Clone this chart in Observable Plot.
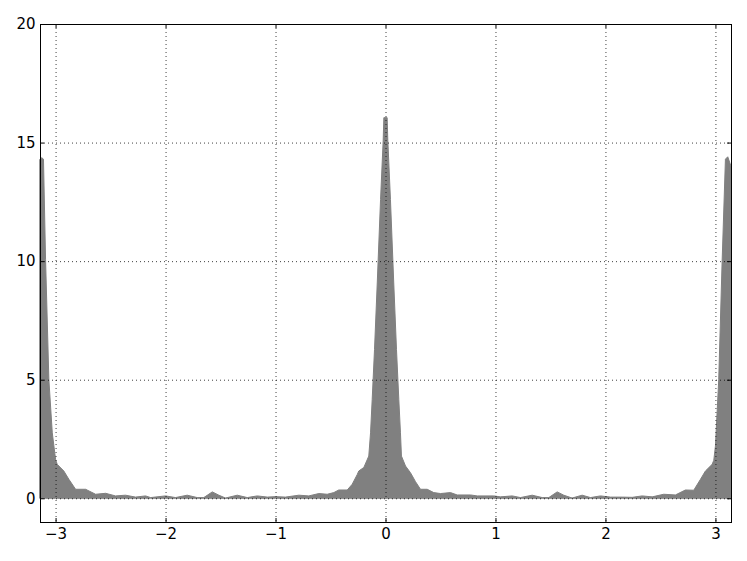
<!DOCTYPE html>
<html>
<head>
<meta charset="utf-8">
<script src="https://cdn.jsdelivr.net/npm/d3@7"></script>
<script src="https://cdn.jsdelivr.net/npm/@observablehq/plot@0.6"></script>
<style>
  html, body { margin: 0; padding: 0; background: #fff; }
  svg { font-family: "DejaVu Sans", sans-serif; }
</style>
</head>
<body>
<div id="chart"></div>
<script>
// frequency (radians)
const freq = [
  -3.1416, -3.125, -3.11, -3.091, -3.061, -3.030, -3.0, -2.985, -2.925, -2.879,
  -2.818, -2.727, -2.636, -2.545, -2.455, -2.364, -2.273, -2.182, -2.136, -2.0,
  -1.909, -1.803, -1.712, -1.652, -1.575, -1.515, -1.455, -1.348, -1.257, -1.166,
  -1.075, -1.0, -0.909, -0.788, -0.697, -0.606, -0.530, -0.470, -0.425, -0.348,
  -0.303, -0.257, -0.243, -0.197, -0.152, -0.136, -0.121, -0.1, -0.075, -0.045,
  -0.021, -0.015, 0.015, 0.021, 0.045, 0.075, 0.1, 0.121, 0.136, 0.145,
  0.182, 0.227, 0.273, 0.318, 0.379, 0.439, 0.5, 0.591, 0.652, 0.773,
  0.834, 0.985, 1.045, 1.152, 1.227, 1.334, 1.425, 1.485, 1.561, 1.621,
  1.697, 1.788, 1.864, 1.955, 2.045, 2.152, 2.243, 2.334, 2.425, 2.530,
  2.636, 2.727, 2.803, 2.864, 2.909, 2.970, 2.985, 3.0, 3.030, 3.061,
  3.091, 3.112, 3.1416
];
// magnitude
const magnitude = [
  14.3, 14.36, 14.3, 10.06, 5.0, 2.76, 1.64, 1.43, 1.15, 0.8,
  0.38, 0.38, 0.17, 0.21, 0.1, 0.13, 0.05, 0.1, 0.03, 0.1,
  0.03, 0.13, 0.03, 0.03, 0.27, 0.13, 0.01, 0.13, 0.03, 0.1,
  0.05, 0.07, 0.05, 0.13, 0.1, 0.2, 0.17, 0.24, 0.35, 0.35,
  0.59, 1.0, 1.15, 1.3, 1.78, 2.76, 4.17, 6.27, 9.08, 12.6,
  15.1, 16.05, 16.05, 15.1, 12.6, 9.08, 6.27, 4.17, 2.76, 1.78,
  1.36, 1.08, 0.7, 0.38, 0.38, 0.24, 0.2, 0.24, 0.14, 0.14,
  0.1, 0.1, 0.06, 0.1, 0.03, 0.13, 0.03, 0.03, 0.27, 0.13,
  0.01, 0.13, 0.03, 0.1, 0.05, 0.05, 0.04, 0.1, 0.06, 0.17,
  0.14, 0.35, 0.34, 0.8, 1.15, 1.43, 1.6, 2.2, 5.0, 10.0,
  14.3, 14.4, 14.0
];
const xTicks = [-3, -2, -1, 0, 1, 2, 3];
const yTicks = [0, 5, 10, 15, 20];

const data = freq.map((f, i) => ({f, m: magnitude[i]}));
const fmt = d => String(d).replace("-", "\u2212");

const W = 747, H = 561;
const mL = 40, mR = 16, mT = 24, mB = 39;
const fw = W - mL - mR, fh = H - mT - mB;
const tick = 4;

const chart = Plot.plot({
  width: W, height: H,
  marginLeft: mL, marginRight: mR, marginTop: mT, marginBottom: mB,
  style: {fontFamily: "DejaVu Sans, sans-serif", fontSize: "15px", background: "#fff"},
  x: {domain: [-Math.PI, Math.PI], axis: null},
  y: {domain: [-1, 20], axis: null},
  marks: [
    Plot.areaY(data, {x: "f", y1: 0, y2: "m", fill: "#808080", stroke: "#808080", strokeWidth: 1}),
    Plot.ruleX(xTicks, {x: d => d, stroke: "#000", strokeOpacity: 0.75, strokeDasharray: "1,3", strokeWidth: 1}),
    Plot.ruleY(yTicks, {y: d => d, stroke: "#000", strokeOpacity: 0.75, strokeDasharray: "1,3", strokeWidth: 1}),
    Plot.tickX(xTicks, {x: d => d, insetTop: fh - tick, stroke: "#000"}),
    Plot.tickX(xTicks, {x: d => d, insetBottom: fh - tick, stroke: "#000"}),
    Plot.tickY(yTicks, {y: d => d, insetRight: fw - tick, stroke: "#000"}),
    Plot.tickY(yTicks, {y: d => d, insetLeft: fw - tick, stroke: "#000"}),
    Plot.frame({stroke: "#000", strokeWidth: 1}),
    Plot.text(xTicks, {x: d => d, text: fmt, frameAnchor: "bottom", lineAnchor: "top", dy: 6, fill: "#000"}),
    Plot.text(yTicks, {y: d => d, text: fmt, frameAnchor: "left", textAnchor: "end", dx: -5, fill: "#000"})
  ]
});
document.getElementById("chart").appendChild(chart);
</script>
</body>
</html>
